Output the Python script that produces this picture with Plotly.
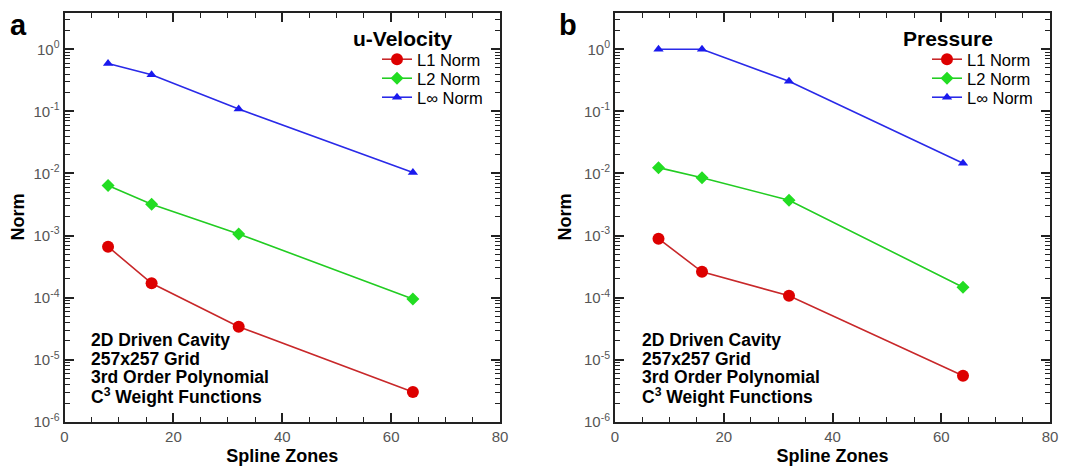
import plotly.graph_objects as go

zones = [8, 16, 32, 64]

# panel a: u-Velocity
u_l1 = [6.6e-4, 1.7e-4, 3.4e-5, 3.0e-6]
u_l2 = [6.4e-3, 3.2e-3, 1.06e-3, 9.5e-5]
u_linf = [0.59, 0.39, 0.109, 0.0104]

# panel b: Pressure
p_l1 = [8.9e-4, 2.6e-4, 1.07e-4, 5.5e-6]
p_l2 = [1.24e-2, 8.5e-3, 3.7e-3, 1.47e-4]
p_linf = [1.0, 1.0, 0.305, 0.0146]

series_names = ["L1 Norm", "L2 Norm", "L\u221e Norm"]
panel_titles = ["u-Velocity", "Pressure"]
panel_letters = ["a", "b"]
note_lines = ["2D Driven Cavity", "257x257 Grid", "3rd Order Polynomial", "C<sup>3</sup> Weight Functions"]
y_tick_exps = [0, -1, -2, -3, -4, -5, -6]
x_tick_vals = [0, 20, 40, 60, 80]

line_colors = ["#c8282a", "#22cc22", "#2a2ae8"]
marker_colors = ["#dd0000", "#22dd22", "#1a1aee"]
symbols = ["circle", "diamond", "triangle-up"]
msizes = [12, 10, 9]

FONT = "Arial, Liberation Sans, sans-serif"
# page body has an 8px margin; figure sized so that it fills the window
OFF = 8
W, H = 1080 - OFF, 466 - OFF


def px(x):
    return (x - OFF) / W


def py(y):
    return 1 - (y - OFF) / H


fig = go.Figure()

x_left = [64.5, 615.0]
x_right = [500.0, 1050.0]
y_top, y_bot = 12.5, 421.7
dom_y = [py(y_bot), py(y_top)]

# legend layout (pixel positions of the reference)
legend_x = [377, 927]
legend_rows = [59.5, 78.5, 97.5]
legend_title_cx = [403, 948]
legend_title_cy = 38

panels = [(u_l1, u_l2, u_linf), (p_l1, p_l2, p_linf)]
legend_layout = {}
for p, data in enumerate(panels):
    xa = "x" if p == 0 else "x2"
    ya = "y" if p == 0 else "y2"
    for s, vals in enumerate(data):
        idx = p * 3 + s + 1
        lname = "legend" if idx == 1 else "legend%d" % idx
        fig.add_trace(go.Scatter(
            x=zones, y=vals, mode="lines+markers", name=series_names[s],
            xaxis=xa, yaxis=ya, legend=lname,
            line=dict(color=line_colors[s], width=1.6),
            marker=dict(symbol=symbols[s], size=msizes[s], color=marker_colors[s],
                        line=dict(width=0)),
        ))
        legend_layout[lname] = dict(
            x=px(legend_x[p]), y=py(legend_rows[s]), xanchor="left", yanchor="middle",
            bgcolor="rgba(0,0,0,0)", borderwidth=0, itemsizing="trace",
            font=dict(family=FONT, size=16.5, color="black"),
        )
fig.update_layout(**legend_layout)

axis_font = dict(family=FONT, size=15, color="#555555")
title_font = dict(family=FONT, size=18, color="black")

minor_y = [k * 10.0 ** e for e in range(-6, 1) for k in range(2, 10)]

for p in range(2):
    sx = "" if p == 0 else "2"
    fig.layout["xaxis" + sx] = dict(
        domain=[px(x_left[p]), px(x_right[p])], range=[0, 80], anchor="y" + sx,
        tickvals=x_tick_vals, ticks="inside", ticklen=9, tickwidth=1.5,
        tickcolor="#222", showline=True, linecolor="#222", linewidth=2,
        mirror="allticks", showgrid=False, zeroline=False, automargin=False,
        tickfont=axis_font,
        minor=dict(dtick=5, tick0=0, ticks="inside", ticklen=5, tickwidth=1.2,
                   tickcolor="#222", showgrid=False),
        title=dict(text="<b>Spline Zones</b>", font=title_font, standoff=6),
    )
    fig.layout["yaxis" + sx] = dict(
        domain=dom_y, type="log", range=[-6, 0.593], anchor="x" + sx,
        tickvals=[10 ** e for e in y_tick_exps],
        ticktext=["10<sup>%d</sup>" % e for e in y_tick_exps],
        ticks="inside", ticklen=9, tickwidth=1.5, tickcolor="#222",
        showline=True, linecolor="#222", linewidth=2,
        mirror="allticks", showgrid=False, zeroline=False, automargin=False,
        tickfont=axis_font,
        minor=dict(tickmode="array", tickvals=minor_y, ticks="inside", ticklen=5,
                   tickwidth=1, tickcolor="#222", showgrid=False),
        title=dict(text="<b>Norm</b>", font=title_font, standoff=8),
    )

note_px = [340, 358.5, 377, 395.5]
for p in range(2):
    sx = "" if p == 0 else "2"
    for i, line in enumerate(note_lines):
        fig.add_annotation(text="<b>" + line + "</b>", xref="x" + sx + " domain", yref="y" + sx + " domain",
                           x=24.5 / (x_right[p] - x_left[p]), y=(y_bot - note_px[i]) / (y_bot - y_top),
                           xanchor="left", yanchor="middle", align="left",
                           showarrow=False,
                           font=dict(family=FONT, size=17.5, color="black"))
    # legend heading
    fig.add_annotation(text="<b>" + panel_titles[p] + "</b>", xref="paper", yref="paper",
                       x=px(legend_title_cx[p]), y=py(legend_title_cy), xanchor="center", yanchor="middle",
                       showarrow=False, font=dict(family=FONT, size=21, color="black"))
    # panel letter (box kept inside the figure's top edge)
    fig.add_annotation(text="<b>" + panel_letters[p] + "</b>", xref="paper", yref="paper",
                       x=px(18 if p == 0 else 568), y=1, xanchor="center", yanchor="top",
                       showarrow=False, borderpad=0,
                       font=dict(family=FONT, size=29, color="black"))

fig.update_layout(
    width=W, height=H, margin=dict(l=0, r=0, t=0, b=0, autoexpand=False),
    paper_bgcolor="white", plot_bgcolor="white", showlegend=True,
)

fig.write_html("out.html")
